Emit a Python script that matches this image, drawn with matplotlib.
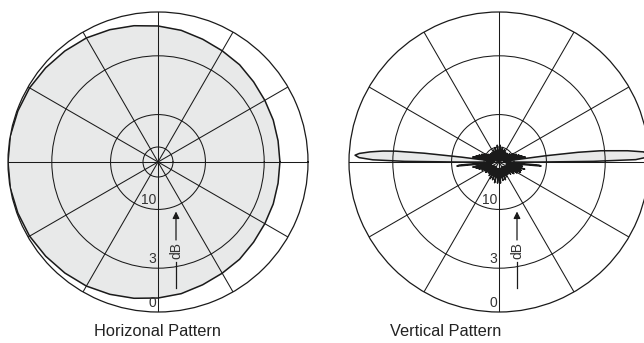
import numpy as np
import matplotlib
matplotlib.use("Agg")
import matplotlib.pyplot as plt

plt.rcParams['font.family'] = ['Liberation Sans', 'DejaVu Sans']

# ring levels in dB (drawn on a linear amplitude scale)
ring_db = [0, -3, -10, -20]
ring_labels = ["0", "3", "10"]
spoke_deg = list(range(0, 360, 30))

# horizontal (azimuth) pattern, every 10 degrees
horiz_deg = list(range(0, 360, 10))
horiz_db = [-1.8, -1.8, -1.75, -1.7, -1.6, -1.45, -1.35, -1.2, -1.0, -0.85,
            -0.7, -0.55, -0.4, -0.3, -0.2, -0.1, -0.05, 0.0, 0.0, 0.0,
            -0.05, -0.1, -0.2, -0.3, -0.4, -0.55, -0.7, -0.85, -1.0, -1.2,
            -1.35, -1.45, -1.6, -1.7, -1.75, -1.8]

# vertical (elevation) pattern: main lobe toward 0 deg
lobe_r_deg = [-0.8, -0.1, 0.4, 1.0, 2.0, 3.0, 4.0, 5.0, 6.3, 7.0, 7.6, 8.3]
lobe_r_db = [-30, -12, -4, -0.8, 0.0, -0.1, -0.3, -1.3, -3.3, -5.5, -10, -28]

# upper side lobes
upper_deg = [11, 13, 15, 17, 19, 21, 24, 27, 30, 33, 37, 41, 46, 51, 56, 61,
             66, 71, 76, 81, 86, 91, 96, 101, 106, 111, 116, 121, 126, 131,
             136, 141, 145, 148, 151, 153.5, 156, 158.5, 161, 163, 165, 167,
             169, 170.5]
upper_db = [-15, -30, -16, -30, -17, -32, -18, -34, -19, -36, -21, -38, -22, -38,
            -22, -38, -21, -38, -20, -38, -19, -38, -19, -38, -20, -38, -21, -38,
            -22, -38, -22, -38, -21, -36, -19, -34, -18, -32, -17, -30, -16, -30,
            -15, -30]

# main lobe toward 180 deg
lobe_l_deg = [172, 172.6, 173.3, 174, 174.6, 175.5, 176.5, 177.3, 178.2, 179,
              179.6, 180.1, 180.8]
lobe_l_db = [-28, -12, -6, -3.2, -2.2, -1.3, -0.6, -0.35, -0.6, -1.5, -4, -12, -30]

# lower side lobes
lower_deg = [182.5, 184.5, 185.5, 187, 189, 191, 193, 195, 197, 199.5, 202, 205,
             208, 211, 214, 218, 222, 226, 230, 234, 238, 242, 246, 250, 254,
             258, 262, 266, 270, 274, 278, 282, 286, 290, 294, 298, 302, 306,
             310, 314, 318, 322, 326, 329, 332, 334.5, 337, 339.5, 342, 344.5,
             347, 349.5, 352, 354.5, 355.5, 357]
lower_db = [-22, -11.5, -11, -22, -28, -15, -26, -16, -25, -17, -25, -18,
            -26, -19, -27, -19, -28, -20, -28, -19, -28, -18, -27, -18, -27,
            -17, -27, -17, -27, -17, -27, -18, -27, -18, -28, -19, -28, -20,
            -28, -19, -27, -18, -26, -17, -25, -16, -25, -16, -26, -15,
            -26, -16, -24, -11, -11.5, -22]

vert_deg = lobe_r_deg + upper_deg + lobe_l_deg + lower_deg
vert_db = lobe_r_db + upper_db + lobe_l_db + lower_db


def amp(db):
    return 10 ** (np.asarray(db, dtype=float) / 20.0)


def polar_frame(ax):
    ax.set_ylim(0, 1)
    ax.set_thetagrids(spoke_deg, labels=[])
    ax.set_rgrids(amp(ring_db[1:]), labels=[])
    ax.grid(True, color="#1a1a1a", lw=0.75)
    ax.tick_params(length=0)
    ax.spines['polar'].set_color("#1a1a1a")
    ax.spines['polar'].set_linewidth(0.9)
    ax.set_facecolor("white")
    for db, lab in zip(ring_db, ring_labels):
        ax.annotate(lab, xy=(np.deg2rad(270), amp(db)), xytext=(-2, 2),
                    textcoords="offset pixels", ha="right", va="bottom",
                    fontsize=10, color="#333333")
    # dB arrow below the centre
    ax.plot([0.56, 0.56], [0.08, 0.167], color="#1a1a1a", lw=0.9,
            transform=ax.transAxes, clip_on=False)
    ax.annotate("", xy=(0.56, 0.335), xytext=(0.56, 0.24),
                xycoords="axes fraction", textcoords="axes fraction",
                arrowprops=dict(arrowstyle="-|>", color="#1a1a1a", lw=0.9,
                                mutation_scale=10, shrinkA=0, shrinkB=0))
    ax.text(0.56, 0.204, "dB", rotation=90, ha="center", va="center",
            fontsize=10, color="#333333", transform=ax.transAxes)


def draw_pattern(ax, deg, db):
    th = np.deg2rad(np.append(deg, deg[0]))
    r = amp(np.append(db, db[0]))
    ax.fill(th, r, color="#e8e9e9", zorder=1)
    ax.plot(th, r, color="#1a1a1a", lw=1.1, zorder=3)


fig = plt.figure(figsize=(6.44, 3.43), dpi=100)
W, H = 644.0, 343.0
R = 150.0
ax1 = fig.add_axes([(158 - R) / W, (181 - R) / H, 2 * R / W, 2 * R / H], projection="polar")
ax2 = fig.add_axes([(499 - R) / W, (181 - R) / H, 2 * R / W, 2 * R / H], projection="polar")

draw_pattern(ax1, horiz_deg, horiz_db)
draw_pattern(ax2, vert_deg, vert_db)
polar_frame(ax1)
polar_frame(ax2)

fig.text(158 / W, 1 - 331 / H, "Horizonal Pattern", ha="center", va="center",
         fontsize=11.8, color="#222222")
fig.text(446 / W, 1 - 331 / H, "Vertical Pattern", ha="center", va="center",
         fontsize=11.8, color="#222222")

fig.savefig("out.png", dpi=100)
